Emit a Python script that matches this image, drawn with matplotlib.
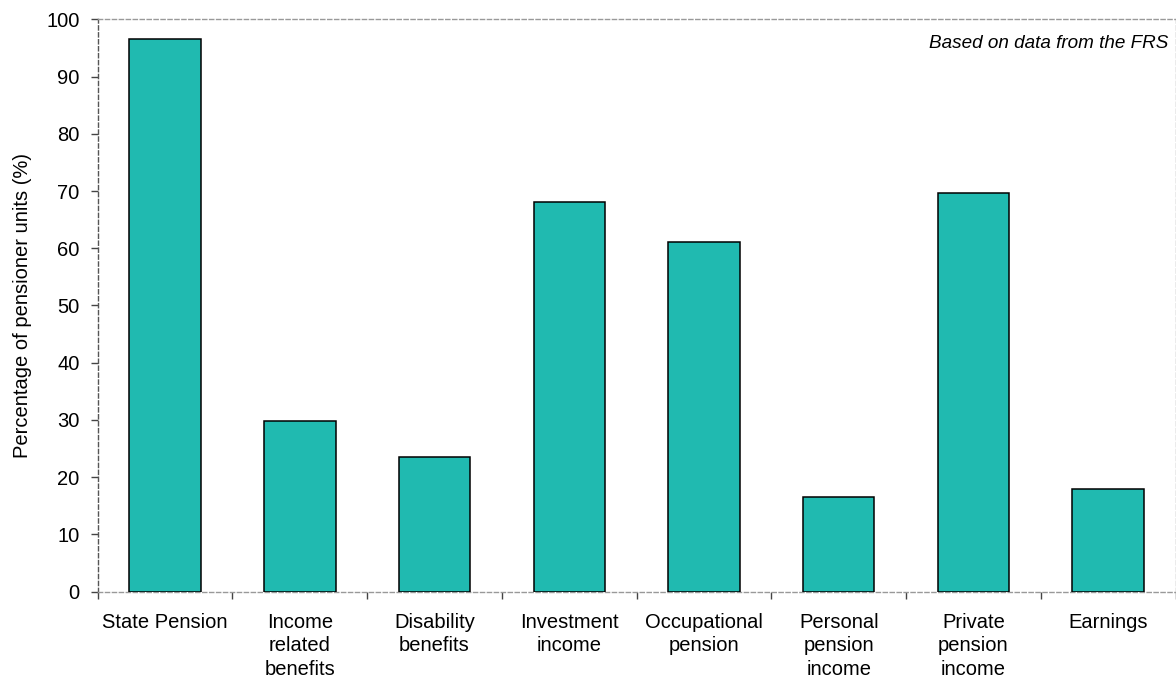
import numpy as np
import matplotlib
matplotlib.use("Agg")
import matplotlib.pyplot as plt
from matplotlib.ticker import FixedLocator, NullFormatter

plt.rcParams["font.family"] = ["Liberation Sans", "DejaVu Sans"]

# data
categories = ["State Pension", "Income\nrelated\nbenefits", "Disability\nbenefits",
              "Investment\nincome", "Occupational\npension", "Personal\npension\nincome",
              "Private\npension\nincome", "Earnings"]
share = [96.5, 29.9, 23.5, 68.1, 61.1, 16.5, 69.6, 18.0]

BAR_COLOR = "#20bab0"

fig = plt.figure(figsize=(11.76, 6.8), dpi=100)
ax = fig.add_axes([0.0831, 0.1299, 0.9165, 0.8417])

x = np.arange(len(categories))
ax.bar(x, share, width=0.53, color=BAR_COLOR, edgecolor="black", linewidth=1.1, zorder=3)

ax.set_xlim(-0.5, len(categories) - 0.5)
ax.set_ylim(0, 100)
ax.set_yticks(np.arange(0, 101, 10))

# category labels centred, tick marks on the boundaries
ax.set_xticks(x)
ax.set_xticklabels(categories, fontsize=14.5, linespacing=1.3)
ax.tick_params(axis="x", which="major", length=0, pad=15)
ax.xaxis.set_minor_locator(FixedLocator(np.arange(-0.5, len(categories), 1.0)))
ax.xaxis.set_minor_formatter(NullFormatter())
ax.tick_params(axis="x", which="minor", length=5, width=1, color="#444444", direction="out")
ax.tick_params(axis="y", length=5, width=1, color="#444444", labelsize=14.5, pad=8)

for side, col in [("left", "#555555"), ("top", "#999999"), ("right", "#999999"), ("bottom", "#999999")]:
    ax.spines[side].set_linestyle((0, (3, 2)))
    ax.spines[side].set_color(col)
    ax.spines[side].set_linewidth(1.0)

ax.set_ylabel("Percentage of pensioner units (%)", fontsize=14.5)
ax.yaxis.set_label_coords(-0.061, 0.5)

ax.text(0.9935, 0.957, "Based on data from the FRS", transform=ax.transAxes,
        ha="right", va="center", fontsize=13.6, style="italic")

fig.savefig("out.png", dpi=100)
